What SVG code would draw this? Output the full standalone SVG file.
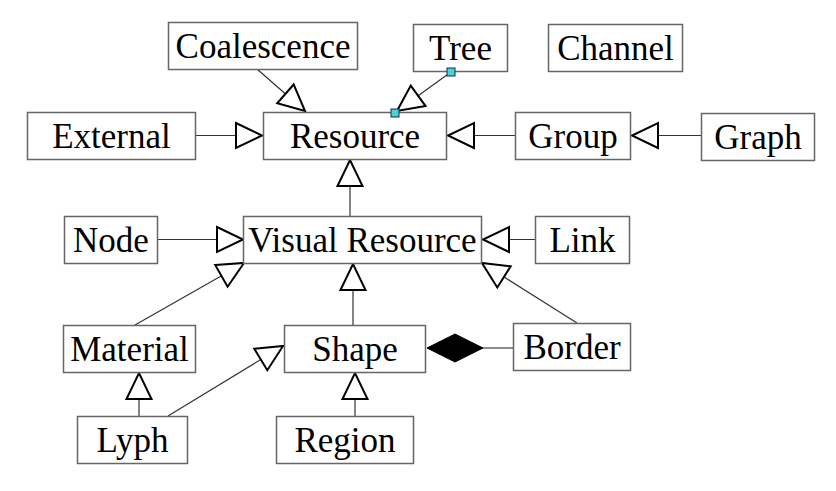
<svg xmlns="http://www.w3.org/2000/svg" width="836" height="491" viewBox="0 0 836 491">
<style>
.box{fill:#fff;stroke:#666;stroke-width:1.5}
.lbl{font-size:35px;fill:#000;text-anchor:middle}
.ln{stroke:#333;stroke-width:1.2;fill:none}
.gen{marker-end:url(#tri)}
</style>
<defs>
<marker id="tri" markerUnits="userSpaceOnUse" markerWidth="32" markerHeight="32" refX="27" refY="13.5" orient="auto" overflow="visible">
<path d="M1,1 L27,13.5 L1,26 Z" fill="#fff" stroke="#000" stroke-width="2"/>
</marker>
<marker id="dia" markerUnits="userSpaceOnUse" markerWidth="60" markerHeight="30" refX="0" refY="14" orient="auto" overflow="visible">
<path d="M0,14 L28,0 L56,14 L28,28 Z" fill="#000" stroke="#000" stroke-width="1"/>
</marker>
</defs>
<rect width="836" height="491" fill="#fff"/>
<g id="connectors">
<line class="ln gen" x1="257" y1="69" x2="305" y2="111"/>
<line class="ln gen" x1="451" y1="72" x2="397" y2="111"/>
<line class="ln gen" x1="196" y1="135.5" x2="262" y2="135.5"/>
<line class="ln gen" x1="515" y1="135.5" x2="448" y2="135.5"/>
<line class="ln gen" x1="701" y1="135.5" x2="632" y2="135.5"/>
<line class="ln gen" x1="350" y1="216" x2="350" y2="160"/>
<line class="ln gen" x1="158" y1="239.5" x2="243" y2="239.5"/>
<line class="ln gen" x1="535" y1="239.5" x2="483" y2="239.5"/>
<line class="ln gen" x1="135" y1="325" x2="244" y2="263"/>
<line class="ln gen" x1="353" y1="325" x2="353" y2="264"/>
<line class="ln gen" x1="577" y1="323" x2="482" y2="263"/>
<line class="ln gen" x1="139" y1="416" x2="139" y2="373"/>
<line class="ln gen" x1="168" y1="416" x2="283" y2="346"/>
<line class="ln gen" x1="355" y1="416" x2="355" y2="373"/>
<line x1="427" y1="348" x2="513" y2="348" stroke="#666" stroke-width="1.5" marker-start="url(#dia)"/>
</g>
<g font-family="'Liberation Serif', Tinos, 'Times New Roman', Times, 'DejaVu Serif', serif">
<g id="coalescence"><rect class="box" x="168.5" y="22.5" width="189" height="47"/><text class="lbl" x="263" y="57.5">Coalescence</text></g>
<g id="tree"><rect class="box" x="413.5" y="24.5" width="94" height="47"/><text class="lbl" x="460.5" y="59.5">Tree</text></g>
<g id="channel"><rect class="box" x="548.5" y="24.5" width="134" height="47"/><text class="lbl" x="615.5" y="60">Channel</text></g>
<g id="external"><rect class="box" x="27.5" y="112.5" width="168" height="47"/><text class="lbl" x="111.5" y="147.5">External</text></g>
<g id="resource"><rect class="box" x="263.5" y="112.5" width="183" height="47"/><text class="lbl" x="355" y="147.5">Resource</text></g>
<g id="group"><rect class="box" x="515.5" y="112.5" width="115" height="47"/><text class="lbl" x="573" y="147.5">Group</text></g>
<g id="graph"><rect class="box" x="701.5" y="113.5" width="113" height="47"/><text class="lbl" x="758" y="148.5">Graph</text></g>
<g id="node"><rect class="box" x="64.5" y="216.5" width="93" height="47"/><text class="lbl" x="111" y="251.5">Node</text></g>
<g id="visual-resource"><rect class="box" x="243.5" y="216.5" width="238" height="47"/><text class="lbl" x="362.5" y="251.5">Visual Resource</text></g>
<g id="link"><rect class="box" x="535.5" y="216.5" width="94" height="47"/><text class="lbl" x="582.5" y="251.5">Link</text></g>
<g id="material"><rect class="box" x="63.5" y="325.5" width="132" height="47"/><text class="lbl" x="129.5" y="360.5">Material</text></g>
<g id="shape"><rect class="box" x="284.5" y="325.5" width="141" height="47"/><text class="lbl" x="355" y="360.5">Shape</text></g>
<g id="border"><rect class="box" x="513.5" y="323.5" width="117" height="47"/><text class="lbl" x="572" y="359">Border</text></g>
<g id="lyph"><rect class="box" x="77.5" y="416.5" width="110" height="47"/><text class="lbl" x="132.5" y="452">Lyph</text></g>
<g id="region"><rect class="box" x="276.5" y="416.5" width="137" height="47"/><text class="lbl" x="345" y="452">Region</text></g>
</g>
<g id="tree-anchors">
<rect x="447" y="68" width="8" height="8" fill="#3fd6d6" stroke="#225" stroke-width="1"/>
<rect x="391" y="109" width="8" height="8" fill="#3fd6d6" stroke="#225" stroke-width="1"/>
</g>
</svg>
